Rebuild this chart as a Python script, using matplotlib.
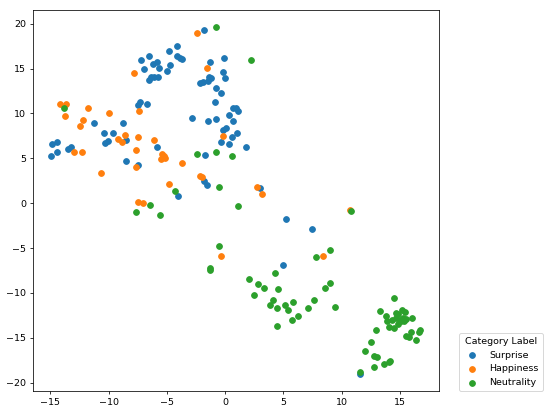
import matplotlib.pyplot as plt

categories = ["Surprise", "Happiness", "Neutrality"]
colors = ["#1f77b4", "#ff7f0e", "#2ca02c"]

# Surprise
surprise_x = [-1.82, -4.16, -4.79, -6.56, -7.26, -6.21, -5.81, -5.70, -6.95, -4.96,
              -4.73, -4.10, -3.91, -3.70, -6.50, -6.35, -6.07, -5.75,
              -1.31, -0.09, -0.15, -2.14, -1.94, -1.43, -1.24, -1.45, 0.00, -0.77,
              -0.37, -0.85, -2.82, -1.45, -0.77, 0.71, 0.94, 1.11, 0.34, 0.71,
              -0.23, 0.06, 0.97, 0.62, -0.37, 0.32, 1.79, -1.77, -1.79, -1.56,
              2.99, 5.21, 7.42, 4.92, 11.60,
              -7.50, -7.32, -6.67, -11.28, -8.80, -10.37, -9.66, -10.34, -10.09,
              -8.55, -14.87, -14.44, -13.48, -13.22, -14.93, -14.42, -5.87, -8.49,
              -7.50, -4.02]
surprise_y = [19.25, 17.55, 16.99, 16.36, 15.91, 15.53, 15.77, 15.10, 14.99, 14.76,
              15.35, 16.36, 16.13, 16.07, 13.76, 14.01, 14.06, 14.09,
              15.77, 16.21, 14.57, 13.43, 13.54, 14.06, 13.98, 13.59, 13.91, 12.79,
              12.23, 11.30, 9.53, 9.14, 9.38, 10.61, 10.56, 10.31, 9.83, 9.11,
              8.19, 8.36, 7.78, 7.41, 6.85, 6.63, 6.26, 5.37, 2.51, 2.03,
              1.65, -1.78, -2.93, -6.89, -19.00,
              10.94, 11.23, 11.05, 8.96, 8.96, 7.77, 7.85, 6.74, 6.88,
              7.07, 6.63, 6.82, 6.07, 6.26, 5.29, 5.73, 6.26, 4.73,
              4.21, 0.76]

# Happiness
happiness_x = [-2.42, -1.58, -7.84, -14.16, -13.65, -13.70, -11.79, -9.97, -7.38, -12.20,
               -12.42, -9.21, -8.89, -8.57, -12.99, -12.25, -7.52, -6.13, -7.61, -5.41,
               -5.27, -5.13, -5.53, -3.68, -7.63, -10.66, -4.81, -2.20, -2.03, -7.50,
               -7.09, -0.23, 2.76, 3.14, 10.71, -0.37, 8.35]
happiness_y = [18.96, 15.10, 14.46, 11.09, 11.09, 9.67, 10.56, 10.05, 10.31, 9.22,
               8.63, 7.11, 6.85, 7.63, 5.70, 5.74, 7.41, 7.04, 5.88, 5.48,
               5.21, 5.07, 4.96, 4.43, 4.03, 3.36, 2.09, 2.98, 2.87, 0.17,
               -0.02, 7.48, 1.76, 1.06, -0.72, -5.88, -5.85]

# Neutrality
neutrality_x = [-0.83, 2.22, -13.82, -2.45, -0.79, 0.60, -0.49, -4.33, -6.44, -7.67,
                -5.58, 1.14, 10.79, -0.49, -1.34, -1.34, 2.05, 2.82, 3.31, 2.50,
                4.25, 4.56, 4.13, 3.82, 4.43, 4.44, 5.10, 5.41, 5.81, 6.24,
                5.70, 7.63, 7.07, 7.75, 8.95, 9.00, 8.52, 9.38,
                14.50, 13.27, 13.76, 13.87, 14.02, 14.50, 14.62, 14.85, 15.13, 15.38,
                14.68, 14.96, 15.10, 15.24, 15.53, 15.98, 14.33, 14.81, 15.30, 15.92,
                15.53, 15.75, 16.38, 16.61, 16.73, 12.91, 12.48, 11.99, 12.79, 13.02,
                12.76, 13.62, 14.04, 14.16, 11.54]
neutrality_y = [19.59, 15.99, 10.64, 5.44, 5.74, 5.21, 1.84, 1.39, -0.20, -0.98,
                -1.28, -0.36, -0.84, -4.81, -7.26, -7.49, -8.41, -9.02, -9.41, -10.19,
                -7.82, -9.56, -10.81, -11.39, -11.70, -13.65, -11.34, -11.90, -11.05, -12.61,
                -13.01, -10.83, -11.68, -5.96, -5.18, -8.86, -9.49, -11.53,
                -10.56, -12.06, -12.61, -13.13, -13.79, -13.95, -12.23, -12.34, -11.87, -12.17,
                -12.79, -12.98, -13.17, -12.79, -12.90, -12.83, -13.06, -13.42, -13.16, -14.32,
                -14.84, -14.95, -15.29, -14.35, -14.17, -14.13, -15.43, -16.50, -16.98, -17.17,
                -18.24, -17.91, -17.68, -17.54, -18.80]

xs = [surprise_x, happiness_x, neutrality_x]
ys = [surprise_y, happiness_y, neutrality_y]

# original looks like an 8x6 figure shrunk down, so keep 8in wide at lower dpi
fig = plt.figure(figsize=(8, 410 / 68.75), dpi=68.75)
ax = fig.add_axes([32.7 / 550, 19 / 410, 406 / 550, 381 / 410])

for name, c, x, y in zip(categories, colors, xs, ys):
    ax.scatter(x, y, color=c, label=name)

ax.legend(title="Category Label", loc="lower left", bbox_to_anchor=(1.05, 0),
          borderaxespad=0)

fig.savefig("out.png", dpi=68.75)
